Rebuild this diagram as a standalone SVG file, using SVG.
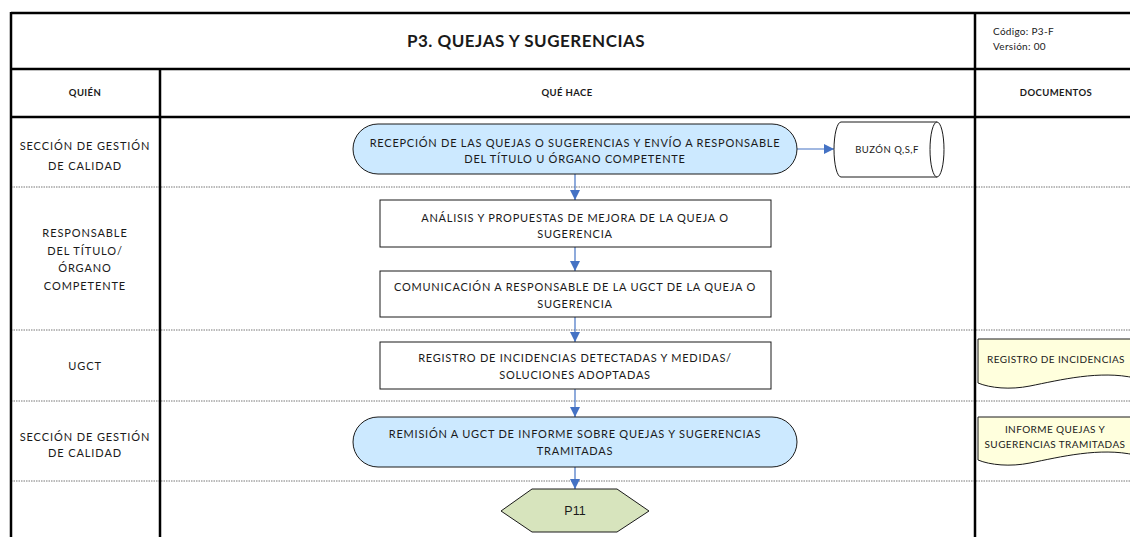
<svg xmlns="http://www.w3.org/2000/svg" width="1130" height="537" viewBox="0 0 1130 537">
<defs>
<style>
text{font-family:Lato,"Open Sans","Liberation Sans",sans-serif;fill:#1a1a1a;text-anchor:middle}
.t{font-size:11px;letter-spacing:0.75px}
.l{font-size:11px;letter-spacing:0.9px}
.h{font-size:9.5px;font-weight:bold;letter-spacing:0.4px}
.s{font-size:9.5px;letter-spacing:0.5px}
.d{font-size:10px;letter-spacing:0.4px}
.frame{stroke:#000;stroke-width:2.5;fill:none}
.lane{stroke:#777;stroke-width:1;stroke-dasharray:1.5 1;fill:none}
.term{fill:#CCE9FF;stroke:#1a1a1a;stroke-width:1}
.box{fill:#fff;stroke:#1a1a1a;stroke-width:1}
.doc{fill:#FFFFDD;stroke:#1a1a1a;stroke-width:1}
.conn{stroke:#4472C4;stroke-width:1.2;fill:none}
</style>
<marker id="ah" markerWidth="10" markerHeight="10" refX="10" refY="5" orient="auto" markerUnits="userSpaceOnUse" viewBox="0 0 10 10">
<path d="M0,0 L10,5 L0,10 z" fill="#4472C4"/>
</marker>
</defs>
<rect width="1130" height="537" fill="#fff"/>

<g id="table">
<line class="lane" x1="11" y1="187" x2="1130" y2="187"/>
<line class="lane" x1="11" y1="330" x2="1130" y2="330"/>
<line class="lane" x1="11" y1="401" x2="1130" y2="401"/>
<line class="lane" x1="11" y1="481" x2="1130" y2="481"/>
<line class="frame" x1="11" y1="13" x2="1130" y2="13"/>
<line class="frame" x1="11" y1="69" x2="1130" y2="69"/>
<line class="frame" x1="11" y1="117" x2="1130" y2="117"/>
<line class="frame" x1="11" y1="12" x2="11" y2="537"/>
<line class="frame" x1="160" y1="69" x2="160" y2="537"/>
<line class="frame" x1="975" y1="13" x2="975" y2="537"/>
<text x="526" y="47" style="font-size:17px;font-weight:bold;letter-spacing:0.5px">P3. QUEJAS Y SUGERENCIAS</text>
<text x="993" y="35" style="font-size:10px;letter-spacing:0.3px;text-anchor:start">Código: P3-F</text>
<text x="993" y="50" style="font-size:10px;letter-spacing:0.3px;text-anchor:start">Versión: 00</text>
<text class="h" x="85" y="96">QUIÉN</text>
<text class="h" x="567" y="96">QUÉ HACE</text>
<text class="h" x="1056" y="96">DOCUMENTOS</text>
<text class="l" x="85" y="150">SECCIÓN DE GESTIÓN</text>
<text class="l" x="85" y="170">DE CALIDAD</text>
<text class="l" x="85" y="237">RESPONSABLE</text>
<text class="l" x="85" y="255">DEL TÍTULO/</text>
<text class="l" x="85" y="272">ÓRGANO</text>
<text class="l" x="85" y="290">COMPETENTE</text>
<text class="l" x="85" y="370">UGCT</text>
<text class="l" x="85" y="441">SECCIÓN DE GESTIÓN</text>
<text class="l" x="85" y="457">DE CALIDAD</text>
</g>

<g id="connectors">
<line class="conn" x1="797" y1="149" x2="834" y2="149" marker-end="url(#ah)"/>
<line class="conn" x1="575" y1="174" x2="575" y2="200" marker-end="url(#ah)"/>
<line class="conn" x1="575" y1="247" x2="575" y2="271" marker-end="url(#ah)"/>
<line class="conn" x1="575" y1="317" x2="575" y2="342" marker-end="url(#ah)"/>
<line class="conn" x1="575" y1="389" x2="575" y2="417" marker-end="url(#ah)"/>
<line class="conn" x1="575" y1="467" x2="575" y2="489" marker-end="url(#ah)"/>
</g>

<g id="n1">
<rect class="term" x="353" y="124" width="444" height="50" rx="25" ry="25"/>
<text class="t" x="575" y="147">RECEPCIÓN DE LAS QUEJAS O SUGERENCIAS Y ENVÍO A RESPONSABLE</text>
<text class="t" x="575" y="163">DEL TÍTULO U ÓRGANO COMPETENTE</text>
</g>

<g id="buzon">
<path class="box" d="M841,122 L937,122 A7,27.5 0 0 1 937,177 L841,177 A7,27.5 0 0 1 841,122 z"/>
<path class="box" d="M937,122 A7,27.5 0 0 0 937,177" fill="none"/>
<text class="s" x="887" y="153">BUZÓN Q,S,F</text>
</g>

<g id="n2">
<rect class="box" x="380" y="200" width="391" height="47"/>
<text class="t" x="575" y="222">ANÁLISIS Y PROPUESTAS DE MEJORA DE LA QUEJA O</text>
<text class="t" x="575" y="238">SUGERENCIA</text>
</g>

<g id="n3">
<rect class="box" x="380" y="271" width="391" height="46"/>
<text class="t" x="575" y="291">COMUNICACIÓN A RESPONSABLE DE LA UGCT DE LA QUEJA O</text>
<text class="t" x="575" y="308">SUGERENCIA</text>
</g>

<g id="n4">
<rect class="box" x="380" y="342" width="391" height="47"/>
<text class="t" x="575" y="362">REGISTRO DE INCIDENCIAS DETECTADAS Y MEDIDAS/</text>
<text class="t" x="575" y="379">SOLUCIONES ADOPTADAS</text>
</g>

<g id="n5">
<rect class="term" x="353" y="417" width="444" height="50" rx="25" ry="25"/>
<text class="t" x="575" y="438">REMISIÓN A UGCT DE INFORME SOBRE QUEJAS Y SUGERENCIAS</text>
<text class="t" x="575" y="455">TRAMITADAS</text>
</g>

<g id="p11">
<polygon points="501,511 532,489 617,489 649,511 617,532 532,532" fill="#D7E4BD" stroke="#1a1a1a" stroke-width="1"/>
<text x="575" y="515" style="font-family:'Liberation Sans',Arial,sans-serif;font-size:12.5px">P11</text>
</g>

<g id="doc1">
<path class="doc" d="M978,339 L1135,339 L1135,378 C1100,370 1060,380 1030,386 C1010,390 990,388 978,383 z"/>
<text class="d" x="1056" y="363">REGISTRO DE INCIDENCIAS</text>
</g>

<g id="doc2">
<path class="doc" d="M978,417 L1135,417 L1135,455 C1100,447 1060,457 1030,463 C1010,467 990,465 978,460 z"/>
<text class="d" x="1055" y="433">INFORME QUEJAS Y</text>
<text class="d" x="1055" y="448">SUGERENCIAS TRAMITADAS</text>
</g>
</svg>
